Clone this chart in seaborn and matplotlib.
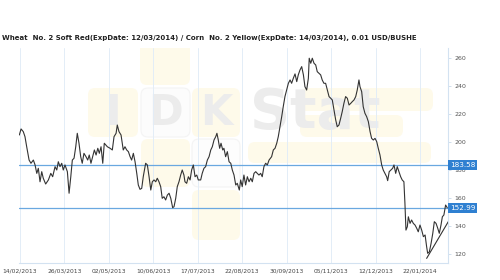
import matplotlib
matplotlib.use("Agg")
import matplotlib.pyplot as plt
import matplotlib.transforms as mtransforms
from matplotlib.patches import FancyBboxPatch
import pandas as pd
import seaborn as sns

title = ("Wheat  No. 2 Soft Red(ExpDate: 12/03/2014) / Corn  No. 2 Yellow"
         "(ExpDate: 14/03/2014), 0.01 USD/BUSHE")
tick_labels = ["14/02/2013", "26/03/2013", "02/05/2013", "10/06/2013", "17/07/2013",
               "22/08/2013", "30/09/2013", "05/11/2013", "12/12/2013", "22/01/2014"]
tick_days = [0, 26, 52, 78, 104, 130, 156, 182, 208, 234]
y_ticks = [120, 140, 160, 180, 200, 220, 240, 260]

# trading day number (since 14/02/2013) and ratio value
day = [-0.4, 0.6, 1.9, 2.9, 3.9, 5.3, 6.4, 7.8, 8.8, 9.8, 10.7, 11.7, 12.7, 13.6, 15.0, 16.6,
       18.0, 19.1, 20.5, 21.5, 22.4, 23.4, 24.4, 25.3, 26.3, 27.7, 28.7, 29.7, 30.6, 31.6, 32.6,
       33.5, 34.5, 35.5, 36.4, 37.4, 38.6, 39.6, 40.5, 41.5, 42.5, 43.5, 44.5, 45.5, 46.4, 47.4,
       48.4, 49.3, 51.1, 52.7, 54.0, 55.0, 56.2, 56.9, 57.9, 59.1, 60.4, 61.4, 62.4, 63.4, 64.4,
       65.3, 66.3, 67.3, 68.3, 69.2, 70.2, 71.2, 72.1, 73.5, 74.5, 75.5, 76.5, 77.4, 78.4, 79.4,
       80.3, 81.3, 82.3, 83.2, 84.2, 85.2, 86.2, 87.2, 88.2, 89.3, 90.1, 91.1, 92.0, 93.0, 94.0,
       94.9, 95.9, 96.5, 97.5, 98.5, 99.5, 100.4, 101.4, 102.4, 103.4, 104.3, 105.7, 106.6, 107.6,
       108.6, 109.6, 110.6, 111.6, 112.5, 113.5, 114.5, 115.2, 116.0, 116.8, 117.6, 118.6, 119.3,
       120.3, 121.3, 122.3, 123.3, 124.2, 125.2, 126.2, 127.1, 128.3, 129.1, 130.0, 131.0, 132.0,
       133.0, 134.0, 135.0, 135.9, 136.9, 137.9, 138.8, 139.8, 140.8, 141.7, 142.7, 143.7, 144.7,
       145.7, 147.2, 148.2, 149.2, 150.2, 151.1, 152.1, 153.1, 154.0, 155.0, 156.0, 157.0, 158.0,
       158.9, 159.9, 160.9, 161.9, 162.8, 163.8, 164.8, 165.8, 166.7, 167.7, 168.7, 169.2, 170.1,
       171.0, 172.0, 173.0, 173.9, 174.9, 175.9, 176.8, 177.8, 178.8, 179.8, 180.8, 181.8, 182.7,
       183.7, 184.7, 185.6, 186.6, 187.6, 188.5, 189.5, 190.5, 191.5, 192.5, 193.5, 194.4, 195.4,
       196.4, 197.3, 198.3, 198.9, 199.9, 200.8, 201.8, 202.8, 203.8, 204.8, 205.7, 206.7, 207.7,
       208.7, 209.6, 210.6, 211.6, 212.5, 213.5, 214.5, 215.1, 216.0, 217.0, 218.0, 218.8, 219.8,
       220.7, 221.7, 222.7, 223.6, 224.6, 225.2, 225.8, 226.6, 227.2, 228.2, 229.1, 230.1, 231.1,
       232.1, 233.0, 234.0, 235.0, 236.0, 237.0, 237.9, 238.5, 239.5, 240.5, 241.5, 242.4, 243.4,
       244.4, 245.3, 246.3, 247.1, 248.0, 249.0, 250.0]
ratio = [205.0, 209.3, 207.4, 203.8, 196.6, 187.1, 184.8, 187.1, 183.6, 177.6, 181.2, 171.6,
         178.8, 174.1, 170.0, 172.9, 177.6, 175.2, 182.4, 180.0, 185.9, 182.4, 184.8, 180.0,
         183.6, 178.8, 163.4, 175.2, 187.1, 188.4, 196.6, 206.2, 199.1, 189.5, 184.8, 191.9,
         189.5, 187.1, 190.7, 184.8, 189.5, 194.3, 190.7, 195.5, 191.9, 196.6, 184.8, 199.1,
         196.6, 195.5, 194.3, 203.8, 206.2, 212.1, 207.4, 205.0, 194.3, 196.6, 194.3, 193.1,
         189.5, 187.1, 191.9, 185.9, 177.6, 169.3, 166.2, 166.9, 175.2, 184.8, 183.6, 175.2,
         165.7, 171.6, 172.9, 171.6, 174.1, 171.6, 168.1, 159.8, 160.9, 158.6, 162.1, 163.4,
         159.8, 153.1, 153.8, 159.8, 168.1, 171.6, 176.4, 180.0, 176.4, 171.6, 170.5, 175.2,
         172.9, 180.0, 183.6, 175.2, 176.4, 172.9, 172.9, 177.6, 181.2, 182.4, 187.1, 189.5,
         194.3, 196.6, 201.4, 203.8, 206.2, 201.4, 195.5, 199.1, 194.3, 195.5, 189.5, 193.1,
         185.9, 184.8, 180.0, 176.4, 169.3, 170.5, 165.7, 172.9, 168.1, 176.4, 169.3, 175.2,
         171.6, 174.1, 171.6, 177.6, 178.8, 177.6, 176.4, 177.6, 175.2, 182.4, 184.8, 183.6,
         187.1, 189.5, 194.3, 195.5, 199.1, 203.8, 210.9, 218.1, 225.2, 232.4, 237.1, 241.9,
         244.3, 241.9, 245.5, 248.6, 243.1, 247.9, 251.4, 253.8, 247.9, 239.5, 237.1, 245.5,
         259.8, 256.2, 259.8, 256.2, 255.0, 250.2, 249.1, 247.9, 244.3, 241.9, 241.9, 237.1,
         232.4, 231.2, 230.0, 222.9, 215.7, 210.9, 212.1, 216.9, 221.6, 227.6, 232.4, 231.2,
         226.4, 227.6, 228.8, 230.0, 232.4, 237.1, 244.3, 239.5, 235.9, 225.2, 220.5, 218.1,
         214.5, 207.4, 202.6, 201.4, 202.6, 200.2, 195.5, 190.7, 183.6, 180.0, 177.6, 175.2,
         172.4, 178.8, 180.0, 181.2, 183.6, 177.6, 182.4, 178.8, 175.2, 172.9, 171.6, 156.2,
         137.1, 139.5, 146.6, 141.9, 144.3, 141.9, 140.7, 138.4, 135.9, 140.7, 137.1, 132.4,
         133.6, 125.2, 120.5, 121.6, 127.6, 134.8, 143.1, 141.9, 138.4, 134.8, 140.7, 146.6,
         147.9, 155.0, 152.99]
level_hi = 183.58
level_lo = 152.99
trend_days = [237.9, 251.0]
trend_vals = [116.9, 144.0]

sns.set_theme(style="white")
plt.rcParams["font.family"] = ["DejaVu Sans"]

W, H = 500, 280
fig = plt.figure(figsize=(W / 100, H / 100), dpi=100)
fig.patch.set_facecolor("white")
ax = fig.add_axes([19 / W, 1 - 263 / H, 429 / W, 215 / H])
ax.set_facecolor("white")

# faint watermark (display pixel coordinates)
ident = mtransforms.IdentityTransform()
def wm_box(x0, y0, x1, y1, fc, ec="none"):
    p = FancyBboxPatch((x0, H - y1), x1 - x0, y1 - y0,
                       boxstyle="round,pad=0,rounding_size=7", transform=ident,
                       fc=fc, ec=ec, lw=0.8, zorder=0)
    ax.add_patch(p)
yel = "#fefaea"
wm_box(140, 35, 190, 85, yel)
wm_box(88, 88, 138, 137, yel)
wm_box(141, 88, 190, 137, "#fcfcfc", "#f4f4f4")
wm_box(192, 88, 240, 137, yel)
wm_box(141, 139, 190, 187, yel)
wm_box(192, 139, 240, 187, "#fdfdfd", "#f4f4f4")
wm_box(192, 190, 240, 240, yel)
wm_box(300, 88, 433, 111, yel)
wm_box(300, 115, 403, 137, yel)
wm_box(248, 142, 431, 163, yel)
wm_col = "#ececec"
for ch, cx in [("I", 113), ("D", 165), ("K", 216)]:
    ax.text(cx, H - 113, ch, transform=ident, fontsize=30, fontweight="bold",
            color=wm_col, ha="center", va="center", zorder=0.5)
ax.text(250, H - 113, "Stat", transform=ident, fontsize=40, fontweight="bold",
        color=wm_col, ha="left", va="center", zorder=0.5)

# vertical grid
for d in tick_days:
    ax.axvline(d, color="#e3edf7", lw=0.7, zorder=1)

df = pd.DataFrame({"day": day, "ratio": ratio})
sns.lineplot(data=df, x="day", y="ratio", ax=ax, color="#333333", lw=0.8,
             sort=False, zorder=4)
ax.plot(trend_days, trend_vals, color="#333333", lw=0.8, zorder=4)

ax.axhline(level_hi, color="#6aa8e0", lw=0.9, zorder=3)
ax.axhline(level_lo, color="#6aa8e0", lw=0.9, zorder=3)

ax.set_xlim(-0.6, 250.4)
ax.set_ylim(113.6, 267.1)
ax.set_xlabel("")
ax.set_ylabel("")

ax.set_xticks(tick_days)
ax.set_xticklabels(tick_labels)
ax.yaxis.tick_right()
ax.set_yticks(y_ticks)
ax.set_yticklabels([str(v) for v in y_ticks])
ax.tick_params(axis="x", length=0, labelsize=4.3, labelcolor="#444444", pad=4)
ax.tick_params(axis="y", right=True, length=2.5, width=0.6, color="#c9d9ea",
               labelsize=4.5, labelcolor="#555555", pad=2)

for s in ["left", "top"]:
    ax.spines[s].set_visible(False)
for s in ["right", "bottom"]:
    ax.spines[s].set_color("#d3e2f1")
    ax.spines[s].set_linewidth(0.8)

tr = mtransforms.blended_transform_factory(ax.transAxes, ax.transData)
for lv in [level_hi, level_lo]:
    ax.text(1.004, lv, f"{lv:.2f}", transform=tr, ha="left", va="center",
            fontsize=5.2, color="white", zorder=6,
            bbox=dict(boxstyle="square,pad=0.25", fc="#2f80d1", ec="none"))

fig.text(2 / W, 1 - 38 / H, title, ha="left", va="center", fontsize=5.0,
         fontweight="bold", color="#222222")

fig.savefig("out.png", dpi=100, facecolor="white")
